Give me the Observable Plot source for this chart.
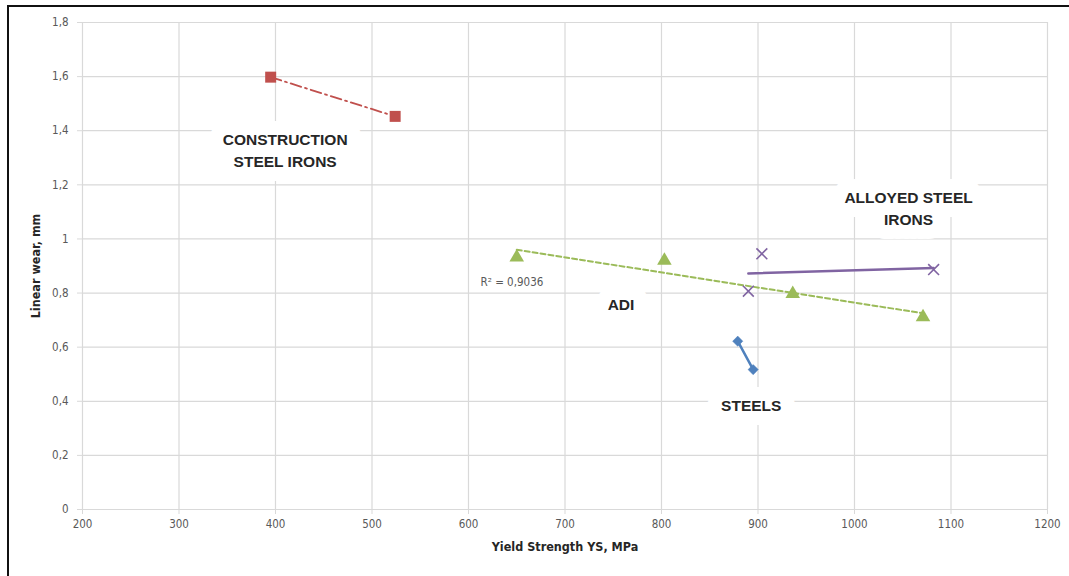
<!DOCTYPE html>
<html>
<head>
<meta charset="utf-8">
<script src="https://cdn.jsdelivr.net/npm/d3@7"></script>
<script src="https://cdn.jsdelivr.net/npm/@observablehq/plot@0.6"></script>
<style>
  html, body { margin: 0; padding: 0; background: #fff; }
  #wrap { position: relative; width: 1069px; height: 576px; overflow: hidden; }
  #frame { position: absolute; left: 7px; top: 5px; right: -10px; bottom: -10px;
           border-top: 2px solid #111; border-left: 2px solid #111; pointer-events: none; }
  #chart svg { display: block; }
</style>
</head>
<body>
<div id="wrap"><div id="chart"></div><div id="frame"></div></div>
<script>
// ---- data ----
const constructionX = [395, 524];
const constructionY = [1.598, 1.453];

const adiX = [650, 803, 936, 1071];
const adiY = [0.932, 0.920, 0.797, 0.711];

const alloyedX = [890, 904, 1082];
const alloyedY = [0.807, 0.945, 0.887];

const steelsX = [879, 895];
const steelsY = [0.622, 0.517];

const xTicks = [200, 300, 400, 500, 600, 700, 800, 900, 1000, 1100, 1200];
const yTicks = [0, 0.2, 0.4, 0.6, 0.8, 1, 1.2, 1.4, 1.6, 1.8];

const labelText = ["CONSTRUCTION\nSTEEL IRONS", "ALLOYED STEEL\nIRONS", "ADI", "STEELS"];
const labelX = [410, 1056, 758, 893];
const labelY = [1.333, 1.117, 0.764, 0.39];

const r2Text = ["R² = 0,9036"];
const r2X = [645];
const r2Y = [0.84];

const xTitle = "Yield Strength YS, MPa";
const yTitle = "Linear wear, mm";

// ---- build tables ----
const zip = (xs, ys) => xs.map((x, i) => ({x, y: ys[i]}));
const construction = zip(constructionX, constructionY);
const adi = zip(adiX, adiY);
const alloyed = zip(alloyedX, alloyedY);
const steels = zip(steelsX, steelsY);
const labels = labelText.map((t, i) => ({t, x: labelX[i], y: labelY[i]}));
const r2 = r2Text.map((t, i) => ({t, x: r2X[i], y: r2Y[i]}));

const red = "#C0504D", green = "#9BBB59", purple = "#8064A2", blue = "#4F81BD";
const grid = "#d9d9d9";
const tickFont = "'Liberation Sans Narrow', 'DejaVu Sans Condensed', 'Liberation Sans', sans-serif";
const fmt = d => String(d).replace(".", ",");
const labelStyle = {x: "x", y: "y", text: "t", fontWeight: "bold", fontSize: 15.5, lineHeight: 1.42};

const chart = Plot.plot({
  width: 1069,
  height: 576,
  marginLeft: 82,
  marginRight: 22,
  marginTop: 22,
  marginBottom: 67,
  style: {fontFamily: "'Liberation Sans', Arial, sans-serif", background: "white"},
  x: {domain: [200, 1200]},
  y: {domain: [0, 1.8]},
  marks: [
    Plot.gridX(xTicks, {stroke: grid, strokeOpacity: 1, strokeWidth: 1.2}),
    Plot.gridY(yTicks, {stroke: grid, strokeOpacity: 1, strokeWidth: 1.2}),
    Plot.axisY(yTicks, {tickSize: 5, tickPadding: 9, stroke: grid, strokeOpacity: 1, tickFormat: fmt,
      fill: "#595959", fontSize: 11.5, fontFamily: tickFont, label: null}),
    Plot.axisX(xTicks, {tickSize: 5, tickPadding: 5, stroke: grid, strokeOpacity: 1, tickFormat: d => String(d),
      fill: "#595959", fontSize: 11.5, fontFamily: tickFont, label: null}),
    // white background behind the annotation labels
    Plot.text(labels, {...labelStyle, fill: "white", stroke: "white", strokeWidth: 28, strokeLinejoin: "round"}),
    Plot.text(labels, {...labelStyle, fill: "#262626"}),
    Plot.line(construction, {x: "x", y: "y", stroke: red, strokeWidth: 1.8, strokeDasharray: "11,4,2,4"}),
    Plot.linearRegressionY(adi, {x: "x", y: "y", ci: 0, stroke: green, strokeWidth: 2, strokeDasharray: "5,3"}),
    Plot.linearRegressionY(alloyed, {x: "x", y: "y", ci: 0, stroke: purple, strokeWidth: 2.5}),
    Plot.line(steels, {x: "x", y: "y", stroke: blue, strokeWidth: 2.5}),
    Plot.dot(construction, {x: "x", y: "y", symbol: "square", r: 6.2, fill: red}),
    Plot.dot(adi, {x: "x", y: "y", symbol: "triangle", r: 5.4, fill: green}),
    Plot.dot(alloyed, {x: "x", y: "y", symbol: "times", r: 5, stroke: purple, strokeWidth: 1.6}),
    Plot.dot(steels, {x: "x", y: "y", symbol: "diamond2", r: 4.6, fill: blue, stroke: blue, strokeWidth: 0.5}),
    Plot.text(r2, {x: "x", y: "y", text: "t", fontSize: 11.5, fill: "#595959", fontFamily: tickFont}),
    Plot.text([xTitle], {frameAnchor: "bottom", dy: 41, fontWeight: "bold", fontSize: 12.5, fill: "#262626",
      fontFamily: tickFont}),
    Plot.text([yTitle], {frameAnchor: "left", dx: -47, rotate: -90, textAnchor: "middle", fontWeight: "bold",
      fontSize: 12.5, fill: "#262626", fontFamily: tickFont})
  ]
});
document.getElementById("chart").appendChild(chart);
</script>
</body>
</html>
